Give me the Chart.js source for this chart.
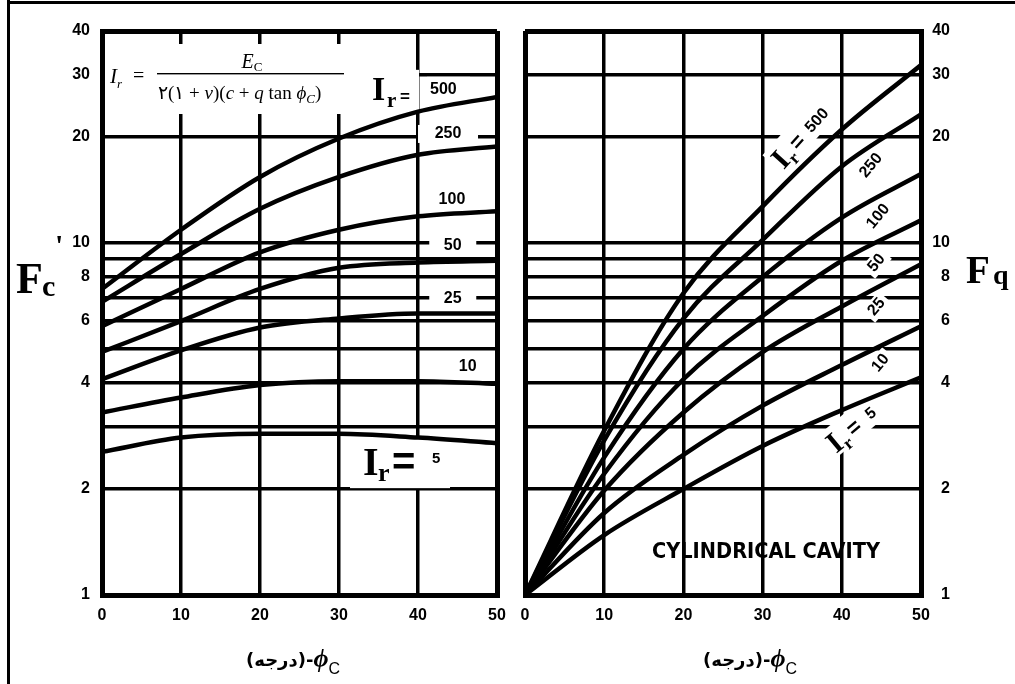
<!DOCTYPE html>
<html lang="fa">
<head>
<meta charset="utf-8">
<title>F'c and Fq factors for a cylindrical cavity</title>
<script src="https://cdn.jsdelivr.net/npm/chart.js@4.4.1/dist/chart.umd.min.js"></script>
<style>
  html, body { margin: 0; padding: 0; background: #fff; }
  #sheet { position: relative; width: 1015px; height: 684px; overflow: hidden; background: #fff; }
  .rule { position: absolute; background: #000; }
  canvas { position: absolute; top: 0; }
  #fcChart { left: 0; }
  #fqChart { left: 510px; }
</style>
</head>
<body>
<div id="sheet">
  <div class="rule" style="left:7px;top:0;width:3px;height:684px"></div>
  <div class="rule" style="left:7px;top:1px;width:1008px;height:3px"></div>
  <canvas id="fcChart" width="510" height="684"></canvas>
  <canvas id="fqChart" width="505" height="684"></canvas>
</div>
<script>
// friction angle, degrees
const phiDeg = [0, 10, 20, 30, 40, 50];
// rigidity index of each curve, smallest first
const rigidityIndex = [5, 10, 25, 50, 100, 250, 500];

// cohesion factor F'c
const fc5   = [2.55, 2.80, 2.87, 2.87, 2.80, 2.70];
const fc10  = [3.30, 3.64, 3.95, 4.05, 4.05, 3.98];
const fc25  = [4.10, 4.95, 5.75, 6.10, 6.30, 6.30];
const fc50  = [4.90, 6.00, 7.40, 8.50, 8.80, 8.90];
const fc100 = [5.80, 7.40, 9.40, 10.9, 11.9, 12.3];
const fc250 = [6.80, 9.30, 12.5, 15.4, 17.8, 18.8];
const fc500 = [7.40, 10.9, 15.4, 19.8, 23.6, 26.0];

// surcharge factor Fq
const fq5   = [1, 1.48, 2.00, 2.65, 3.35, 4.15];
const fq10  = [1, 1.71, 2.50, 3.45, 4.50, 5.80];
const fq25  = [1, 1.98, 3.30, 4.90, 6.60, 8.70];
const fq50  = [1, 2.21, 4.10, 6.20, 8.90, 11.6];
const fq100 = [1, 2.46, 5.00, 8.00, 11.8, 15.7];
const fq250 = [1, 2.75, 6.10, 10.2, 16.5, 23.2];
const fq500 = [1, 2.93, 7.20, 12.7, 21.0, 32.0];

// axis ticks
const phiTicks = [0, 10, 20, 30, 40, 50];
const gridValues = [1, 2, 3, 4, 5, 6, 7, 8, 9, 10, 20, 30, 40];
const labelledValues = [1, 2, 4, 6, 8, 10, 20, 30, 40];

const SERIF = "'Liberation Serif', 'DejaVu Serif', serif";
const SANS = "'Liberation Sans', 'DejaVu Sans', sans-serif";
const tickFont = { family: SANS, weight: 'bold', size: 16 };

function curveSets(series) {
  return series.map((vals, i) => ({
    label: 'Ir = ' + rigidityIndex[i],
    data: phiDeg.map((p, j) => ({ x: p, y: vals[j] })),
    borderColor: '#000',
    borderWidth: 4.5,
    pointRadius: 0,
    fill: false,
    cubicInterpolationMode: 'monotone'
  }));
}

function isEdge(ctx, ends) {
  return ctx.tick && ends.includes(ctx.tick.value);
}

function scalesFor(side) {
  const left = side === 'left';
  return {
    x: {
      type: 'linear', min: 0, max: 50, position: 'bottom',
      afterBuildTicks: s => { s.ticks = phiTicks.map(v => ({ value: v })); },
      afterFit: s => { s.height = 89; s.paddingLeft = 0; s.paddingRight = 0; },
      grid: { color: '#000', drawTicks: false, lineWidth: c => isEdge(c, [0, 50]) ? 5 : 3.5 },
      border: { color: '#000', width: 5 },
      ticks: { color: '#000', font: tickFont, padding: 11, autoSkip: false, maxRotation: 0, minRotation: 0,
               callback: v => String(v) }
    },
    y: {
      type: 'logarithmic', min: 1, max: 40, position: left ? 'left' : 'right',
      afterBuildTicks: s => { s.ticks = gridValues.map(v => ({ value: v })); },
      afterFit: s => { s.width = left ? 102 : 29; s.paddingTop = 0; s.paddingBottom = 0; },
      grid: { color: '#000', drawTicks: false, lineWidth: c => isEdge(c, [1, 40]) ? 5 : 3.5 },
      border: { color: '#000', width: 5 },
      ticks: { color: '#000', font: tickFont, padding: 12, autoSkip: false,
               crossAlign: left ? 'near' : 'far',
               callback: v => labelledValues.includes(v) ? String(v) : '' }
    }
  };
}

// ---- text helpers -------------------------------------------------------
function runs(ctx, x, y, parts) {
  for (const p of parts) {
    ctx.font = p.f;
    ctx.fillText(p.t, x, y + (p.dy || 0));
    x += ctx.measureText(p.t).width;
  }
  return x;
}
function runsWidth(ctx, parts) {
  let w = 0;
  for (const p of parts) { ctx.font = p.f; w += ctx.measureText(p.t).width; }
  return w;
}

// a tag is anchored at a (phi, F) point; boxes and glyphs are offsets in its own rotated frame
function placeTag(chart, tag) {
  const ctx = chart.ctx;
  const x = chart.scales.x.getPixelForValue(tag.at[0]);
  const y = chart.scales.y.getPixelForValue(tag.at[1]);
  ctx.translate(x, y);
  ctx.rotate((tag.angle || 0) * Math.PI / 180);
}
function drawTagBoxes(chart, tags) {
  const ctx = chart.ctx;
  for (const tag of tags) {
    ctx.save();
    placeTag(chart, tag);
    ctx.fillStyle = '#fff';
    for (const b of tag.boxes) ctx.fillRect(b[0], b[1], b[2], b[3]);
    ctx.restore();
  }
}
function drawTagText(chart, tags) {
  const ctx = chart.ctx;
  for (const tag of tags) {
    ctx.save();
    placeTag(chart, tag);
    ctx.fillStyle = '#000';
    for (const g of tag.glyphs) {
      ctx.font = g.f;
      ctx.textAlign = g.align || 'left';
      ctx.textBaseline = g.base || 'alphabetic';
      ctx.fillText(g.t, g.x, g.y);
    }
    ctx.restore();
  }
}
function numTag(text, at, angle, w) {
  return {
    at, angle, boxes: [[-w / 2, -9, w, 18]],
    glyphs: [{ t: text, f: `bold 16px ${SANS}`, x: 0, y: 0, align: 'center', base: 'middle' }]
  };
}

// ---- left panel: F'c ----------------------------------------------------
const fcTags = [
  { // I_r = 500, anchored at the foot of the I
    at: [34.18, 25.5], angle: 0,
    boxes: [[-10, -30, 57, 42], [55, -23, 43, 21]],
    glyphs: [
      { t: 'I', f: `bold 34px ${SERIF}`, x: 0, y: 0 },
      { t: 'r', f: `bold 21px ${SERIF}`, x: 15, y: 7 },
      { t: '=', f: `bold 17px ${SANS}`, x: 28, y: 2 },
      { t: '500', f: `bold 16px ${SANS}`, x: 58, y: -6 }
    ]
  },
  numTag('250', [43.8, 20.4], 0, 60),
  numTag('100', [44.3, 13.3], 0, 40),
  numTag('50', [44.4, 9.85], 0, 47),
  numTag('25', [44.4, 6.97], 0, 47),
  numTag('10', [46.3, 4.44], 0, 30),
  { // I_r = 5
    at: [33.04, 2.19], angle: 0,
    boxes: [[-13, -38, 100, 51]],
    glyphs: [
      { t: 'I', f: `bold 40px ${SERIF}`, x: 0, y: 0 },
      { t: 'r', f: `bold 26px ${SERIF}`, x: 15, y: 6 },
      { t: '=', f: `bold 40px ${SANS}`, x: 29, y: -11, base: 'middle' },
      { t: '5', f: `bold 15px ${SANS}`, x: 69, y: -12 }
    ]
  }
];

const fcDecor = {
  id: 'fcDecor',
  beforeDatasetsDraw(chart) {
    const ctx = chart.ctx;
    ctx.save();
    ctx.fillStyle = '#fff';
    ctx.fillRect(105, 44, 258, 70);   // formula panel
    ctx.restore();
    drawTagBoxes(chart, fcTags);
  },
  afterDatasetsDraw(chart) {
    drawTagText(chart, fcTags);
  },
  afterDraw(chart) {
    const ctx = chart.ctx;
    ctx.save();
    ctx.fillStyle = '#000';
    ctx.textAlign = 'left';
    ctx.textBaseline = 'alphabetic';
    ctx.direction = 'ltr';

    // I_r = E_C / ۲(۱+ν)(c + q tan φ_C)
    runs(ctx, 110, 83, [
      { t: 'I', f: `italic 21px ${SERIF}` },
      { t: 'r', f: `italic 13px ${SERIF}`, dy: 5 }
    ]);
    ctx.font = `20px ${SERIF}`;
    ctx.fillText('=', 133, 82);
    const num = [
      { t: 'E', f: `italic 20px ${SERIF}` },
      { t: 'C', f: `13px ${SERIF}`, dy: 3 }
    ];
    runs(ctx, 252 - runsWidth(ctx, num) / 2, 68, num);
    ctx.fillRect(157, 73, 187, 1.4);
    const den = [
      { t: '۲(۱ + ', f: `19px ${SERIF}` },
      { t: 'ν', f: `italic 19px ${SERIF}` },
      { t: ')(', f: `19px ${SERIF}` },
      { t: 'c', f: `italic 19px ${SERIF}` },
      { t: ' + ', f: `19px ${SERIF}` },
      { t: 'q', f: `italic 19px ${SERIF}` },
      { t: ' tan ', f: `19px ${SERIF}` },
      { t: 'ϕ', f: `italic 19px ${SERIF}` },
      { t: 'C', f: `italic 13px ${SERIF}`, dy: 4 },
      { t: ')', f: `19px ${SERIF}` }
    ];
    const dw = runsWidth(ctx, den);
    ctx.save();
    ctx.translate(158, 99);
    ctx.scale(Math.min(1, 185 / dw), 1);
    runs(ctx, 0, 0, den);
    ctx.restore();

    // F'c
    ctx.font = `bold 44px ${SERIF}`;
    ctx.fillText('F', 16, 293);
    ctx.font = `bold 30px ${SERIF}`;
    ctx.fillText('c', 42, 296);
    ctx.font = `bold 30px ${SERIF}`;
    ctx.fillText("'", 55, 255);

    phiTitle(ctx, 293, 666);
    ctx.restore();
  }
};

// ---- right panel: Fq ----------------------------------------------------
const fqTags = [
  { // I_r = 500 along the top curve
    at: [35.2, 20.5], angle: -48,
    boxes: [[-44, -16, 84, 29]],
    glyphs: [
      { t: 'I', f: `bold 30px ${SERIF}`, x: -41, y: 10 },
      { t: 'r', f: `bold 18px ${SERIF}`, x: -29, y: 15 },
      { t: '=', f: `bold 22px ${SANS}`, x: -17, y: 8 },
      { t: '500', f: `bold 16px ${SANS}`, x: 5, y: 6 }
    ]
  },
  numTag('250', [43.7, 16.6], -50, 32),
  numTag('100', [44.6, 11.9], -50, 32),
  numTag('50', [44.4, 8.77], -50, 26),
  numTag('25', [44.4, 6.58], -50, 26),
  numTag('10', [44.9, 4.56], -50, 26),
  { // I_r = 5 along the bottom curve
    at: [41.8, 3.08], angle: -40,
    boxes: [[-38, -15, 70, 29]],
    glyphs: [
      { t: 'I', f: `bold 30px ${SERIF}`, x: -35, y: 11 },
      { t: 'r', f: `bold 18px ${SERIF}`, x: -23, y: 16 },
      { t: '=', f: `bold 22px ${SANS}`, x: -11, y: 9 },
      { t: '5', f: `bold 16px ${SANS}`, x: 13, y: 7 }
    ]
  }
];

const fqDecor = {
  id: 'fqDecor',
  beforeDatasetsDraw(chart) { drawTagBoxes(chart, fqTags); },
  afterDatasetsDraw(chart) { drawTagText(chart, fqTags); },
  afterDraw(chart) {
    const ctx = chart.ctx;
    ctx.save();
    ctx.fillStyle = '#000';
    ctx.textBaseline = 'alphabetic';
    ctx.direction = 'ltr';

    ctx.textAlign = 'center';
    ctx.font = `bold 21px 'DejaVu Sans', sans-serif`;
    ctx.fillText('CYLINDRICAL CAVITY', 256, 558, 228);

    ctx.textAlign = 'left';
    ctx.font = `bold 39px ${SERIF}`;
    ctx.fillText('F', 456, 283);
    ctx.font = `bold 28px ${SERIF}`;
    ctx.fillText('q', 483, 284);

    phiTitle(ctx, 240, 666);
    ctx.restore();
  }
};

// (درجه)-φ_C under each panel
function phiTitle(ctx, cx, base) {
  ctx.textAlign = 'left';
  ctx.direction = 'ltr';
  const parts = [
    { t: '(درجه)', f: `bold 18px 'DejaVu Sans', sans-serif` },
    { t: '-', f: `bold 18px 'DejaVu Sans', sans-serif` },
    { t: 'ϕ', f: `italic bold 26px ${SERIF}`, dy: 1 },
    { t: 'C', f: `16px ${SANS}`, dy: 8 }
  ];
  runs(ctx, cx - runsWidth(ctx, parts) / 2, base, parts);
}

function build(canvasId, series, side, decor) {
  const left = side === 'left';
  return new Chart(document.getElementById(canvasId), {
    type: 'line',
    data: { datasets: curveSets(series) },
    options: {
      responsive: false,
      animation: false,
      devicePixelRatio: 1,
      layout: { padding: left ? { left: 0, right: 13, top: 31, bottom: 0 }
                              : { left: 15, right: 65, top: 31, bottom: 0 } },
      plugins: { legend: { display: false }, tooltip: { enabled: false } },
      scales: scalesFor(side)
    },
    plugins: [decor]
  });
}

build('fcChart', [fc5, fc10, fc25, fc50, fc100, fc250, fc500], 'left', fcDecor);
build('fqChart', [fq5, fq10, fq25, fq50, fq100, fq250, fq500], 'right', fqDecor);
</script>
</body>
</html>
